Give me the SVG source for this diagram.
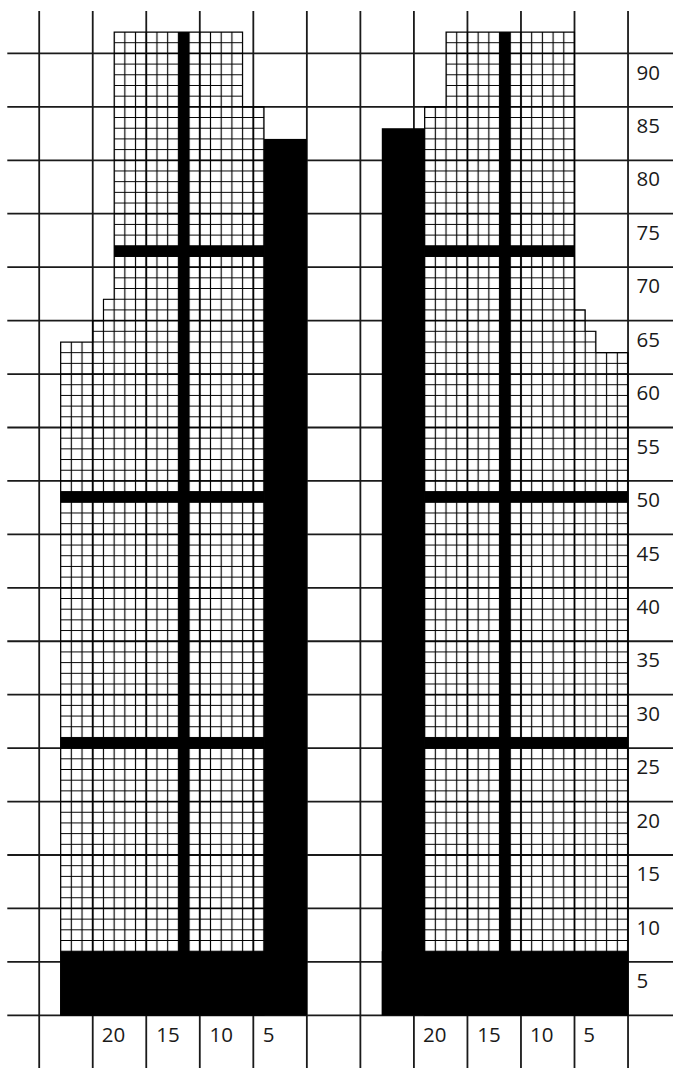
<svg xmlns="http://www.w3.org/2000/svg" width="673" height="1068" viewBox="0 0 673 1068">
<style>
.big{stroke:#1a1a1a;stroke-width:1.8;fill:none}
.chart{fill:url(#small);stroke:#000;stroke-width:1.1}
.blk{fill:#000}
text{font-family:"Open Sans","Noto Sans","Liberation Sans",sans-serif;font-size:20.5px;fill:#1a1a1a}
</style>
<defs>
<pattern id="small" patternUnits="userSpaceOnUse" x="33.847" y="48.056" width="10.706" height="10.688">
<path d="M5.353 0V10.688M0 5.344H10.706" stroke="#000" stroke-width="1.15" fill="none"/>
</pattern>
</defs>
<rect width="673" height="1068" fill="#fff"/>
<g id="big-grid" class="big">
<path d="M39.2 11V1068M92.73 11V1068M146.26 11V1068M199.79 11V1068M253.32 11V1068M306.85 11V1068M360.38 11V1068M413.91 11V1068M467.44 11V1068M520.97 11V1068M574.5 11V1068M628.03 11V1068"/>
<path d="M7.3 53.4H673M7.3 106.84H673M7.3 160.28H673M7.3 213.72H673M7.3 267.16H673M7.3 320.6H673M7.3 374.04H673M7.3 427.48H673M7.3 480.92H673M7.3 534.36H673M7.3 587.8H673M7.3 641.24H673M7.3 694.68H673M7.3 748.12H673M7.3 801.56H673M7.3 855H673M7.3 908.44H673M7.3 961.88H673M7.3 1015.32H673"/>
</g>
<g id="left-chart">
<polygon class="chart" points="60.61,1015.32 264.03,1015.32 264.03,106.84 242.61,106.84 242.61,32.02 114.14,32.02 114.14,299.23 103.44,299.23 103.44,320.6 92.73,320.6 92.73,341.98 60.61,341.98"/>
<rect class="blk" x="264.03" y="138.91" width="42.82" height="876.41"/>
<rect class="blk" x="60.61" y="951.19" width="246.24" height="64.13"/>
<rect class="blk" x="178.38" y="32.02" width="10.7" height="983.3"/>
<rect class="blk" x="114.14" y="245.79" width="149.89" height="10.69"/>
<rect class="blk" x="60.61" y="491.61" width="203.42" height="10.69"/>
<rect class="blk" x="60.61" y="737.43" width="203.42" height="10.69"/>
</g>
<g id="right-chart">
<polygon class="chart" points="424.62,1015.32 628.03,1015.32 628.03,352.67 595.91,352.67 595.91,331.29 585.21,331.29 585.21,309.92 574.5,309.92 574.5,32.02 446.03,32.02 446.03,106.84 424.62,106.84"/>
<rect class="blk" x="381.79" y="128.22" width="42.83" height="887.1"/>
<rect class="blk" x="381.79" y="951.19" width="246.24" height="64.13"/>
<rect class="blk" x="499.56" y="32.02" width="10.7" height="983.3"/>
<rect class="blk" x="424.62" y="245.79" width="149.88" height="10.69"/>
<rect class="blk" x="424.62" y="491.61" width="203.41" height="10.69"/>
<rect class="blk" x="424.62" y="737.43" width="203.41" height="10.69"/>
</g>
<g id="row-labels">
<text x="636.5" y="79.5">90</text>
<text x="636.5" y="132.9">85</text>
<text x="636.5" y="186.4">80</text>
<text x="636.5" y="239.8">75</text>
<text x="636.5" y="293.3">70</text>
<text x="636.5" y="346.7">65</text>
<text x="636.5" y="400.1">60</text>
<text x="636.5" y="453.6">55</text>
<text x="636.5" y="507">50</text>
<text x="636.5" y="560.5">45</text>
<text x="636.5" y="613.9">40</text>
<text x="636.5" y="667.3">35</text>
<text x="636.5" y="720.8">30</text>
<text x="636.5" y="774.2">25</text>
<text x="636.5" y="827.7">20</text>
<text x="636.5" y="881.1">15</text>
<text x="636.5" y="934.5">10</text>
<text x="636.5" y="988">5</text>
</g>
<g id="col-labels">
<text x="101.8" y="1041.5">20</text>
<text x="156.3" y="1041.5">15</text>
<text x="209.5" y="1041.5">10</text>
<text x="262.8" y="1041.5">5</text>
<text x="423" y="1041.5">20</text>
<text x="477.3" y="1041.5">15</text>
<text x="530" y="1041.5">10</text>
<text x="583.3" y="1041.5">5</text>
</g>
</svg>
